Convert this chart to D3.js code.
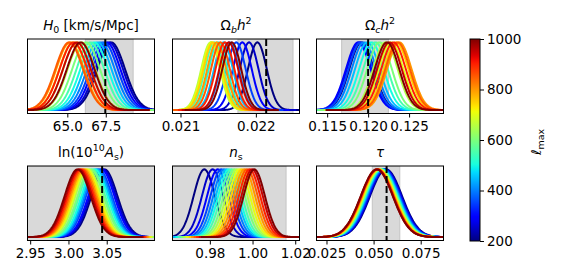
<!DOCTYPE html>
<html>
<head>
<meta charset="utf-8">
<script src="https://cdn.jsdelivr.net/npm/d3@7"></script>
<style>
  body { margin: 0; background: #fff; }
  text { font-family: "DejaVu Sans", sans-serif; }
</style>
</head>
<body>
<script>
const width = 563
const height = 280

// l_max of each posterior curve
const ells = [200, 250, 300, 350, 400, 450, 500, 550, 600, 650, 700, 750, 800, 850, 900, 950, 1000];

// peak position of each curve, per parameter
const h0Means  = [67.85, 67.72, 67.55, 67.38, 67.18, 66.97, 66.75, 66.50, 66.22, 65.92, 65.62, 65.38, 65.18, 65.12, 65.40, 65.62, 65.87];
const ombMeans = [0.02202, 0.02191, 0.02182, 0.02174, 0.02165, 0.02157, 0.02150, 0.02145, 0.02141, 0.02140, 0.02141, 0.02143, 0.02148, 0.02153, 0.02159, 0.02164, 0.02168];
const omcMeans = [0.1192, 0.1189, 0.1188, 0.1191, 0.1195, 0.1199, 0.1204, 0.1209, 0.1214, 0.1221, 0.1228, 0.1234, 0.1238, 0.1236, 0.1231, 0.1226, 0.1223];
const lnAsMeans = [3.047, 3.045, 3.043, 3.040, 3.038, 3.036, 3.034, 3.031, 3.029, 3.026, 3.024, 3.022, 3.020, 3.018, 3.016, 3.014, 3.012];
const nsMeans  = [0.9774, 0.9813, 0.9837, 0.9853, 0.9866, 0.9878, 0.9889, 0.9901, 0.9914, 0.9926, 0.9938, 0.9950, 0.9962, 0.9974, 0.9986, 0.9998, 1.0008];
const tauMeans = [0.0566, 0.0562, 0.0558, 0.0554, 0.0550, 0.0546, 0.0542, 0.0539, 0.0536, 0.0533, 0.0530, 0.0527, 0.0524, 0.0522, 0.0520, 0.0518, 0.0517];

// one width (sigma) per parameter
const sigmas = [0.9, 0.000125, 0.0015, 0.017, 0.005, 0.0085];

// fiducial value (dashed line) and grey band per parameter
const fiducials = [67.47, 0.022137, 0.1200, 3.044, null, 0.0569];
const bands = [[66.17, 69.28], [0.021762, 0.022493], [0.11677, 0.12247], [2.9, 3.2], [0.95, 1.0157], [0.0493, 0.0639]];

// axis ranges and ticks
const xRanges = [[62.41, 70.67], [0.020894, 0.022579], [0.1137, 0.1292], [2.9465, 3.1124], [0.9625, 1.022], [0.0197, 0.0871]];
const tickValues = [[65, 67.5], [0.021, 0.022], [0.115, 0.120, 0.125], [2.95, 3.00, 3.05], [0.98, 1.00, 1.02], [0.025, 0.050, 0.075]];
const tickFormats = [".1f", ".3f", ".3f", ".2f", ".2f", ".3f"];
const cbarTicks = [200, 400, 600, 800, 1000];

const allMeans = [h0Means, ombMeans, omcMeans, lnAsMeans, nsMeans, tauMeans];

const svg = d3.select("body").append("svg")
    .attr("width", width)
    .attr("height", height);

// matplotlib "jet" colormap
const jetR = d3.scaleLinear().domain([0, 0.35, 0.66, 0.89, 1]).range([0, 0, 1, 1, 0.5]);
const jetG = d3.scaleLinear().domain([0, 0.125, 0.375, 0.64, 0.91, 1]).range([0, 0, 1, 1, 0, 0]);
const jetB = d3.scaleLinear().domain([0, 0.11, 0.34, 0.65, 1]).range([0.5, 1, 1, 0, 0]);
function jet(t) {
    return d3.rgb(255 * jetR(t), 255 * jetG(t), 255 * jetB(t)).formatHex();
}
const ellScale = d3.scaleLinear().domain([200, 1000]).range([0, 1]);

// panel layout
const colX = [27.5, 172.5, 316.5];
const rowY = [39, 166];
const pw = 127, ph = 74.5;
const fontSize = 13.5;

function addTitle(g, i) {
    const t = g.append("text")
        .attr("x", pw / 2).attr("y", -9)
        .attr("text-anchor", "middle")
        .attr("font-size", fontSize);
    const small = fontSize * 0.7;
    if (i == 0) {
        t.append("tspan").attr("font-style", "italic").text("H");
        t.append("tspan").attr("font-size", small).attr("dy", 3).text("0");
        t.append("tspan").attr("dy", -3).text(" [km/s/Mpc]");
    } else if (i == 1 || i == 2) {
        t.append("tspan").text("Ω");
        t.append("tspan").attr("font-size", small).attr("font-style", "italic").attr("dy", 3).text(i == 1 ? "b" : "c");
        t.append("tspan").attr("font-style", "italic").attr("dy", -3).text("h");
        t.append("tspan").attr("font-size", small).attr("dy", -6).text("2");
    } else if (i == 3) {
        t.append("tspan").text("ln(10");
        t.append("tspan").attr("font-size", small).attr("dy", -6).text("10");
        t.append("tspan").attr("font-style", "italic").attr("dy", 6).text("A");
        t.append("tspan").attr("font-size", small).attr("dy", 3).text("s");
        t.append("tspan").attr("dy", -3).text(")");
    } else if (i == 4) {
        t.append("tspan").attr("font-style", "italic").text("n");
        t.append("tspan").attr("font-size", small).attr("dy", 3).text("s");
    } else {
        t.append("tspan").attr("font-style", "italic").text("τ");
    }
}

allMeans.forEach((means, i) => {
    const g = svg.append("g")
        .attr("transform", `translate(${colX[i % 3]},${rowY[Math.floor(i / 3)]})`);

    const x = d3.scaleLinear().domain(xRanges[i]).range([0, pw]);
    const y = d3.scaleLinear().domain([-0.05, 1.05]).range([ph, 0]);

    g.append("clipPath").attr("id", "clip" + i)
        .append("rect").attr("width", pw).attr("height", ph);

    const inner = g.append("g").attr("clip-path", `url(#clip${i})`);

    // grey band
    const b = bands[i];
    inner.append("rect")
        .attr("x", x(b[0])).attr("width", x(b[1]) - x(b[0]))
        .attr("y", 0).attr("height", ph)
        .attr("fill", "#d9d9d9")
        .attr("stroke", "#c4c4c4")
        .attr("stroke-width", 1);

    // posterior curves
    const sigma = sigmas[i];
    const line = d3.line().x(d => x(d[0])).y(d => y(d[1]));
    means.forEach((m, k) => {
        const pts = d3.range(-5, 5.001, 0.05).map(z => [m + z * sigma, Math.exp(-0.5 * z * z)]);
        inner.append("path")
            .attr("d", line(pts))
            .attr("fill", "none")
            .attr("stroke", jet(ellScale(ells[k])))
            .attr("stroke-width", 2);
    });

    // fiducial
    if (fiducials[i] != null) {
        inner.append("line")
            .attr("x1", x(fiducials[i])).attr("x2", x(fiducials[i]))
            .attr("y1", 0).attr("y2", ph)
            .attr("stroke", "#000")
            .attr("stroke-width", 2)
            .attr("stroke-dasharray", "7,3");
    }

    g.append("rect")
        .attr("width", pw).attr("height", ph)
        .attr("fill", "none")
        .attr("stroke", "#000")
        .attr("stroke-width", 1);

    const axis = g.append("g")
        .attr("transform", `translate(0,${ph})`)
        .call(d3.axisBottom(x)
            .tickValues(tickValues[i])
            .tickFormat(d3.format(tickFormats[i]))
            .tickSize(4)
            .tickPadding(4));
    axis.select(".domain").remove();
    axis.selectAll("text")
        .attr("font-size", fontSize)
        .attr("font-family", "DejaVu Sans")
        .attr("fill", "#000");

    addTitle(g, i);
});

// colorbar
const cbX = 470, cbW = 10, cbTop = 39, cbBottom = 241;
const grad = svg.append("defs").append("linearGradient")
    .attr("id", "jetgrad")
    .attr("x1", 0).attr("y1", 1).attr("x2", 0).attr("y2", 0);
d3.range(0, 1.0001, 0.02).forEach(t => {
    grad.append("stop").attr("offset", t).attr("stop-color", jet(t));
});
svg.append("rect")
    .attr("x", cbX).attr("y", cbTop)
    .attr("width", cbW).attr("height", cbBottom - cbTop)
    .attr("fill", "url(#jetgrad)")
    .attr("stroke", "#000")
    .attr("stroke-width", 1);

const cbScale = d3.scaleLinear().domain([200, 1000]).range([cbBottom, cbTop]);
const cbAxis = svg.append("g")
    .attr("transform", `translate(${cbX + cbW},0)`)
    .call(d3.axisRight(cbScale)
        .tickValues(cbarTicks)
        .tickFormat(d3.format("d"))
        .tickSize(4)
        .tickPadding(3));
cbAxis.select(".domain").remove();
cbAxis.selectAll("text")
    .attr("font-size", fontSize)
    .attr("font-family", "DejaVu Sans")
    .attr("fill", "#000");

const cbLabel = svg.append("text")
    .attr("transform", "translate(541,142) rotate(-90)")
    .attr("text-anchor", "middle")
    .attr("font-size", fontSize);
cbLabel.append("tspan").attr("font-style", "italic").text("ℓ");
cbLabel.append("tspan").attr("font-size", fontSize * 0.7).attr("dy", 3).text("max");
</script>
</body>
</html>
